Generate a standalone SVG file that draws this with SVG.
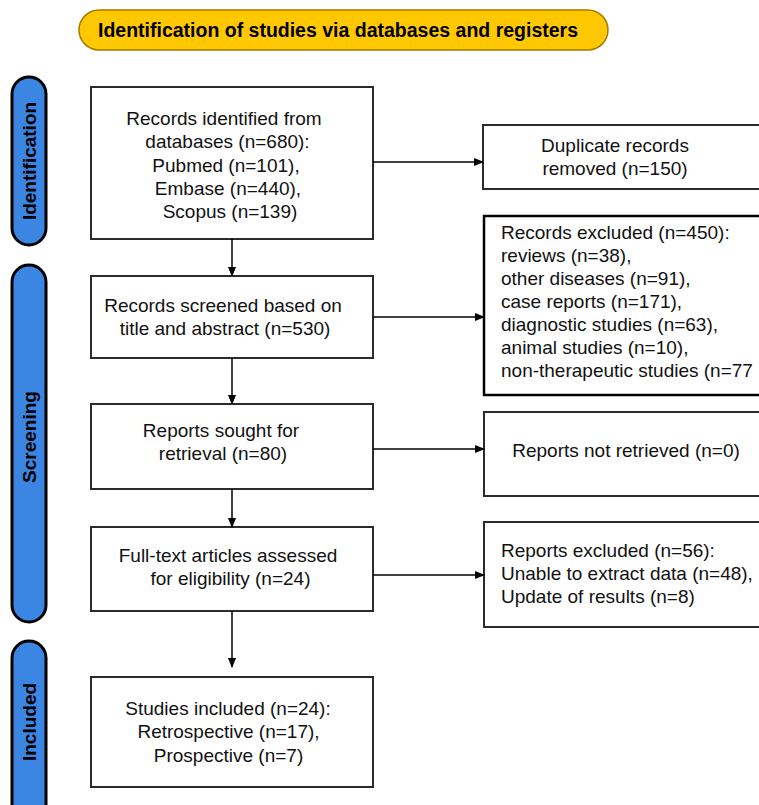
<svg xmlns="http://www.w3.org/2000/svg" width="759" height="805" viewBox="0 0 759 805">
<defs>
<marker id="ah" markerWidth="10" markerHeight="10" refX="9" refY="5" orient="auto" markerUnits="userSpaceOnUse">
<path d="M0,1 L10,5 L0,9 Z" fill="#000"/>
</marker>
<style>
.box{fill:#fff;stroke:#2b2b2b;stroke-width:2}
.t{font-family:"Liberation Sans",Arial,sans-serif;font-size:19px;fill:#111}
.c{text-anchor:middle}
.pill{fill:#3a86e2;stroke:#000;stroke-width:3}
.pt{font-family:"Liberation Sans",Arial,sans-serif;font-size:19px;font-weight:bold;fill:#000;text-anchor:middle}
.ln{stroke:#000;stroke-width:1.5;fill:none;marker-end:url(#ah)}
</style>
</defs>
<rect width="759" height="805" fill="#fff"/>
<g id="header">
<rect x="79" y="10" width="529" height="40" rx="20" fill="#ffc800" stroke="#a57a00" stroke-width="1.5"/>
<text class="pt" x="338" y="37" style="font-size:19.5px">Identification of studies via databases and registers</text>
</g>
<g id="phase-identification">
<rect class="pill" x="12" y="77" width="34" height="168" rx="17"/>
<text class="pt" transform="translate(36,161) rotate(-90)">Identification</text>
</g>
<g id="phase-screening">
<rect class="pill" x="12" y="265" width="34" height="357" rx="17"/>
<text class="pt" transform="translate(36,437) rotate(-90)">Screening</text>
</g>
<g id="phase-included">
<rect class="pill" x="12" y="641" width="34" height="190" rx="17"/>
<text class="pt" transform="translate(36,722) rotate(-90)">Included</text>
</g>
<g id="identified">
<rect class="box" x="91" y="87" width="282" height="152"/>
<text class="t c" x="224" y="125">Records identified from</text>
<text class="t c" x="227.5" y="148">databases (n=680):</text>
<text class="t c" x="226" y="172">Pubmed (n=101),</text>
<text class="t c" x="228" y="195">Embase (n=440),</text>
<text class="t c" x="230" y="218">Scopus (n=139)</text>
</g>
<g id="duplicates">
<rect class="box" x="483" y="125" width="290" height="64"/>
<text class="t c" x="615" y="152">Duplicate records</text>
<text class="t c" x="615" y="175">removed (n=150)</text>
</g>
<g id="screened">
<rect class="box" x="91" y="276" width="282" height="82"/>
<text class="t c" x="223" y="312">Records screened based on</text>
<text class="t c" x="225" y="335">title and abstract (n=530)</text>
</g>
<g id="excluded">
<rect class="box" x="484" y="216" width="290" height="179" style="stroke:#000;stroke-width:2.5"/>
<text class="t" x="501" y="239">Records excluded (n=450):</text>
<text class="t" x="501" y="262">reviews (n=38),</text>
<text class="t" x="501" y="285">other diseases (n=91),</text>
<text class="t" x="501" y="308">case reports (n=171),</text>
<text class="t" x="501" y="331">diagnostic studies (n=63),</text>
<text class="t" x="501" y="354">animal studies (n=10),</text>
<text class="t" x="501" y="377">non-therapeutic studies (n=77</text>
</g>
<g id="sought">
<rect class="box" x="91" y="404" width="282" height="85"/>
<text class="t c" x="221" y="437">Reports sought for</text>
<text class="t c" x="223" y="460">retrieval (n=80)</text>
</g>
<g id="not-retrieved">
<rect class="box" x="484" y="412" width="290" height="84"/>
<text class="t c" x="626" y="457">Reports not retrieved (n=0)</text>
</g>
<g id="assessed">
<rect class="box" x="91" y="527" width="282" height="84"/>
<text class="t c" x="228" y="562">Full-text articles assessed</text>
<text class="t c" x="230.5" y="585">for eligibility (n=24)</text>
</g>
<g id="reports-excluded">
<rect class="box" x="484" y="522" width="290" height="105"/>
<text class="t" x="501" y="557">Reports excluded (n=56):</text>
<text class="t" x="501" y="580">Unable to extract data (n=48),</text>
<text class="t" x="501" y="603">Update of results (n=8)</text>
</g>
<g id="included">
<rect class="box" x="91" y="677" width="282" height="110"/>
<text class="t c" x="228" y="715">Studies included (n=24):</text>
<text class="t c" x="228.5" y="738">Retrospective (n=17),</text>
<text class="t c" x="228.5" y="762">Prospective (n=7)</text>
</g>
<g id="connectors">
<line class="ln" x1="373" y1="162" x2="483" y2="162"/>
<line class="ln" x1="373" y1="317" x2="484" y2="317"/>
<line class="ln" x1="373" y1="449" x2="484" y2="449"/>
<line class="ln" x1="373" y1="575" x2="484" y2="575"/>
<line class="ln" x1="232" y1="239" x2="232" y2="276"/>
<line class="ln" x1="232" y1="358" x2="232" y2="404"/>
<line class="ln" x1="232" y1="489" x2="232" y2="527"/>
<line class="ln" x1="232" y1="611" x2="232" y2="667"/>
</g>
</svg>
